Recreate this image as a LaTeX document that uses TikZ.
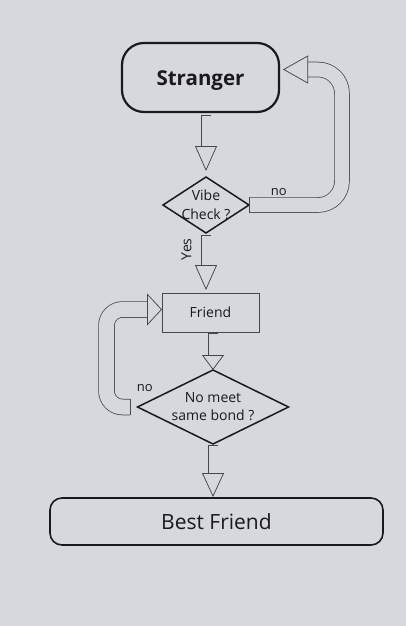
\documentclass[tikz,border=0pt]{standalone}
\usepackage{fontspec}
\setmainfont{Open Sans}
\usetikzlibrary{shapes,arrows.meta}
\usetikzlibrary{positioning}
\definecolor{screen}{RGB}{214,216,221}
\definecolor{ink}{RGB}{25,25,30}
\definecolor{rim}{RGB}{70,70,76}
\tikzstyle{terminal} = [draw=ink, rectangle, rounded corners=22pt, outer sep=0pt,
minimum width=157pt, minimum height=69pt, line width=2.2pt]
\tikzstyle{decision} = [draw=ink, diamond, inner sep=0pt, outer sep=0pt, line width=1.5pt]
\tikzstyle{process} = [draw=rim, rectangle, outer sep=0pt, line width=0.8pt,
minimum width=97pt, minimum height=39pt]

\begin{document}
\begin{tikzpicture}[x=1pt, y=-1pt, text=ink,
	flow/.style={draw=rim, line width=0.75pt, double=screen, double distance=9pt,
		{Bar[width=10.5pt,line width=0.75pt]}-{Triangle[open,line width=0.75pt,length=#1,width=22pt]}},
	flow/.default=25pt,
	loopflow/.style={draw=rim, line width=0.75pt, double=screen, double distance=14pt,
		rounded corners=24pt,
		{Bar[width=15.5pt,line width=0.75pt]}-{Triangle[open,line width=0.75pt,length=25pt,width=28pt]}},
	backflow/.style={draw=rim, line width=0.75pt, double=screen, double distance=15pt,
		rounded corners=16pt,
		{Bar[width=16.5pt,line width=0.75pt]}-{Triangle[open,line width=0.75pt,length=15pt,width=32pt]}}]
	\fill [screen] (0,0) rectangle (406,626);
	\node [terminal, font=\fontsize{20.5}{24}\selectfont\bfseries] (stranger) at (200.5,77.5)
		{\raisebox{-3pt}[\height][\depth]{Stranger}};
	\node [decision, minimum width=86pt, minimum height=56pt, below=65pt of stranger, xshift=5.5pt,
		label={[align=center, font=\fontsize{14}{19}\selectfont]center:Vibe\\Check ?}] (vibe) {};
	\node [process, font=\fontsize{14}{17}\selectfont, below=60pt of vibe, xshift=4.5pt] (friend) {Friend};
	\node [decision, minimum width=151pt, minimum height=74pt, below=38pt of friend, xshift=2.5pt,
		label={[align=center, font=\fontsize{14}{18}\selectfont]center:No meet\\same bond ?}] (bond) {};
	\node [terminal, rounded corners=12pt, minimum width=333pt, minimum height=47pt, line width=1.6pt,
		font=\fontsize{21}{25}\selectfont, below=54pt of bond, xshift=3.5pt] (best) {Best Friend};
	%% Arrows
	\path [flow, shorten <=3pt, shorten >=6pt] (stranger.south -| vibe.north) to (vibe.north);
	\path [flow, shorten <=2pt, shorten >=3pt] (vibe.south) to node [pos=0.27, rotate=90, anchor=south,
		inner sep=1pt, inner ysep=14pt, font=\fontsize{14}{17}\selectfont] {Yes} (vibe.south |- friend.north);
	\path [flow=15pt, shorten <=1pt] (friend.south -| bond.north) to (bond.north);
	\path [flow=24pt, shorten <=1pt, shorten >=1pt] (bond.south) to (bond.south |- best.north);
	\path [loopflow, shorten >=4pt] (vibe.east) -- node [pos=0.32, above=8pt, inner sep=1pt,
		font=\fontsize{13}{16}\selectfont] {no} ++(93pt,0) |- ([yshift=8pt]stranger.east);
	\path [backflow] ([xshift=-7pt]bond.west) node [anchor=south west, inner sep=0pt, xshift=6pt, yshift=15pt,
		font=\fontsize{13}{16}\selectfont] {no} -- ++(-24pt,0) |- ([yshift=3pt]friend.west);
\end{tikzpicture}
\end{document}
